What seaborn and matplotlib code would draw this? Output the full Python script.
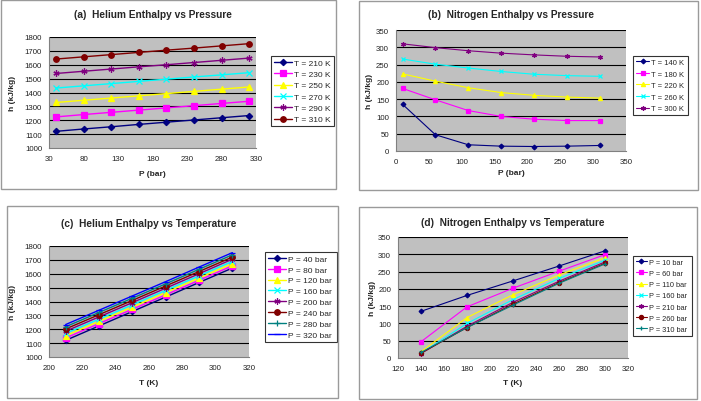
import numpy as np
import pandas as pd
import matplotlib
matplotlib.use("Agg")
import matplotlib.pyplot as plt
import seaborn as sns
from matplotlib.patches import Rectangle

# ---------------- data ----------------
he_pressure = [40, 80, 120, 160, 200, 240, 280, 320]          # bar
he_temps = [210, 230, 250, 270, 290, 310]                      # K
he_h_T210 = [1120, 1137, 1153, 1170, 1186, 1202, 1218, 1234]
he_h_T230 = [1224, 1241, 1257, 1273, 1289, 1305, 1321, 1337]
he_h_T250 = [1328, 1344, 1360, 1376, 1392, 1408, 1424, 1440]
he_h_T270 = [1432, 1448, 1464, 1480, 1496, 1512, 1527, 1543]
he_h_T290 = [1537, 1553, 1569, 1585, 1600, 1616, 1632, 1648]
he_h_T310 = [1641, 1657, 1673, 1689, 1705, 1720, 1736, 1752]

n2_pressure = [10, 60, 110, 160, 210, 260, 310]                # bar
n2_temps = [140, 180, 220, 260, 300]                           # K
n2_h_T140 = [135, 47, 18, 14, 13, 14, 16]
n2_h_T180 = [181, 148, 117, 100, 92, 88, 88]
n2_h_T220 = [223, 202, 183, 169, 161, 156, 153]
n2_h_T260 = [266, 251, 240, 230, 222, 218, 216]
n2_h_T300 = [310, 299, 290, 283, 278, 274, 272]

he_rows = [he_h_T210, he_h_T230, he_h_T250, he_h_T270, he_h_T290, he_h_T310]
n2_rows = [n2_h_T140, n2_h_T180, n2_h_T220, n2_h_T260, n2_h_T300]

titles = ["(a)  Helium Enthalpy vs Pressure", "(b)  Nitrogen Enthalpy vs Pressure",
          "(c)  Helium Enthalpy vs Temperature", "(d)  Nitrogen Enthalpy vs Temperature"]

# ---------------- style ----------------
excel_colors = ["#000080", "#FF00FF", "#FFFF00", "#00FFFF", "#800080", "#800000", "#008080", "#0000FF"]
excel_markers = ["D", "s", "^", "x", (6, 2, 0), "o", "+", "_"]
marker_scale = [0.8, 1.0, 1.0, 1.0, 1.1, 1.0, 1.2, 1.0]

sns.set_style("white")
plt.rcParams["font.family"] = ["Liberation Sans", "DejaVu Sans"]

W, H = 701, 402
fig = plt.figure(figsize=(W / 100, H / 100), dpi=100)


def fx(px):
    return px / W


def fy(py):
    return 1 - py / H


def frame(x0, y0, x1, y1):
    fig.patches.append(Rectangle((fx(x0), fy(y1)), fx(x1) - fx(x0), fy(y0) - fy(y1),
                                 transform=fig.transFigure, fill=False,
                                 edgecolor="#9a9a9a", linewidth=1.0))


def make_axes(l, t, r, b):
    ax = fig.add_axes([fx(l), fy(b), fx(r) - fx(l), fy(t) - fy(b)])
    ax.set_facecolor("#C0C0C0")
    for s in ["top", "right"]:
        ax.spines[s].set_visible(False)
    for s in ["left", "bottom"]:
        ax.spines[s].set_color("#808080")
        ax.spines[s].set_linewidth(0.8)
    ax.tick_params(axis="both", which="major", labelsize=5.7, length=3, width=0.6,
                   color="#808080", direction="out", pad=2, labelcolor="#222222")
    ax.grid(False)
    return ax


def draw(ax, xs, series, labels, msize, lw):
    for i, (ys, lab) in enumerate(zip(series, labels)):
        sns.lineplot(x=xs, y=ys, ax=ax, color=excel_colors[i], marker=excel_markers[i],
                     markersize=msize * marker_scale[i], markeredgecolor=excel_colors[i],
                     markeredgewidth=0.9, linewidth=lw, label=lab, legend=True, zorder=3)


def finish(ax, xlim, xticks, ylim, yticks, title, xlabel, legend_box, title_y, xl_y, yl_x,
           leg_fs, leg_sp, handle_len):
    ax.set_xlim(*xlim)
    ax.set_ylim(*ylim)
    ax.set_xticks(xticks)
    ax.set_yticks(yticks)
    for yv in yticks[1:]:
        ax.axhline(yv, color="#000000", linewidth=0.8, zorder=1)
    pos = ax.get_position()
    ax.set_title(title, fontsize=7.3, fontweight="bold",
                 y=(fy(title_y) - pos.y0) / pos.height, va="center", pad=0)
    ax.set_xlabel(xlabel, fontsize=6, fontweight="bold")
    ax.xaxis.set_label_coords(0.5, (fy(xl_y) - pos.y0) / pos.height)
    ax.xaxis.label.set_va("center")
    ax.set_ylabel("h (kJ/kg)", fontsize=6, fontweight="bold")
    ax.yaxis.set_label_coords((fx(yl_x) - pos.x0) / pos.width, 0.5)
    ax.yaxis.label.set_va("center")
    l, t, r, b = legend_box
    leg = ax.legend(loc="upper left",
                    bbox_to_anchor=(fx(l), fy(b), fx(r) - fx(l), fy(t) - fy(b)),
                    bbox_transform=fig.transFigure, mode="expand",
                    fontsize=leg_fs, frameon=True, fancybox=False, borderpad=0.35,
                    handlelength=handle_len, handletextpad=0.2, labelspacing=leg_sp,
                    borderaxespad=0)
    leg.get_frame().set_edgecolor("#000000")
    leg.get_frame().set_linewidth(0.8)
    leg.get_frame().set_facecolor("white")


# frames around each chart
frame(1, 1, 336, 190)
frame(359, 2, 698, 191)
frame(7, 207, 338, 399)
frame(359, 208, 697, 400)

# (a) Helium enthalpy vs pressure
ax_a = make_axes(49, 38, 256, 149)
draw(ax_a, he_pressure, he_rows, [f"T = {t} K" for t in he_temps], 4.0, 1.0)
finish(ax_a, (30, 330), list(range(30, 331, 50)), (1000, 1800), list(range(1000, 1801, 100)),
       titles[0], "P (bar)", (271, 57, 334, 132), 15, 175, 13, 6.0, 0.42, 2.2)

# (b) Nitrogen enthalpy vs pressure
ax_b = make_axes(396, 31, 626, 152)
draw(ax_b, n2_pressure, n2_rows, [f"T = {t} K" for t in n2_temps], 3.0, 0.8)
finish(ax_b, (0, 350), list(range(0, 351, 50)), (0, 350), list(range(0, 351, 50)),
       titles[1], "P (bar)", (633, 57, 688, 120), 15, 174, 370, 5.5, 0.55, 1.8)

# (c) Helium enthalpy vs temperature
ax_c = make_axes(49, 247, 249, 358)
he_cols = [[row[j] for row in he_rows] for j in range(len(he_pressure))]
draw(ax_c, he_temps, he_cols, [f"P = {p} bar" for p in he_pressure], 4.0, 1.0)
finish(ax_c, (200, 320), list(range(200, 321, 20)), (1000, 1800), list(range(1000, 1801, 100)),
       titles[2], "T (K)", (265, 253, 337, 353), 224, 384, 13, 6.0, 0.36, 2.2)

# (d) Nitrogen enthalpy vs temperature
ax_d = make_axes(398, 238, 628, 359)
n2_cols = [[row[j] for row in n2_rows] for j in range(len(n2_pressure))]
draw(ax_d, n2_temps, n2_cols, [f"P = {p} bar" for p in n2_pressure], 3.0, 0.8)
finish(ax_d, (120, 320), list(range(120, 321, 20)), (0, 350), list(range(0, 351, 50)),
       titles[3], "T (K)", (633, 257, 692, 349), 223, 384, 372, 5.3, 0.55, 1.6)

fig.savefig("out.png", dpi=100)
